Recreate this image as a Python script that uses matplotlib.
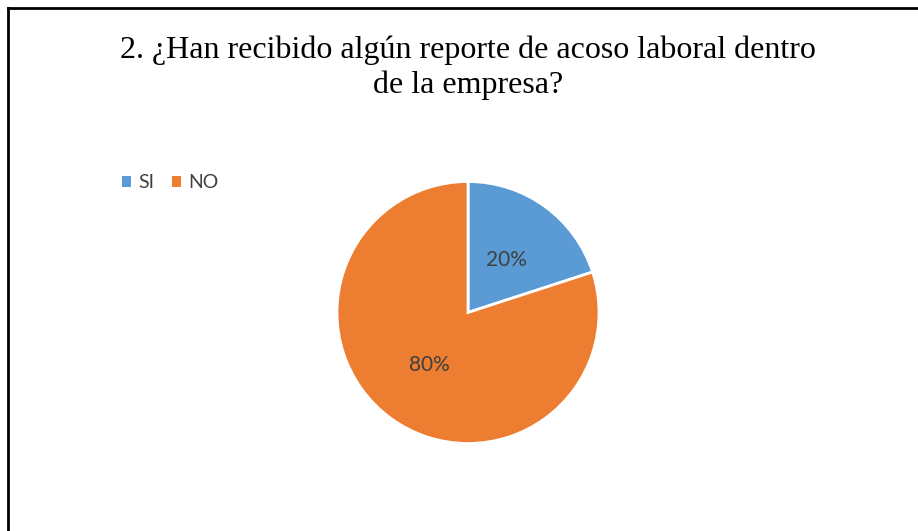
import matplotlib
matplotlib.use("Agg")
import matplotlib.pyplot as plt
from matplotlib.lines import Line2D
from matplotlib.patches import Patch

categorias = ["SI", "NO"]
valores = [20, 80]
colores = ["#5B9BD5", "#ED7D31"]
titulo = "2. ¿Han recibido algún reporte de acoso laboral dentro\nde la empresa?"

W, H = 918, 531
fig = plt.figure(figsize=(W / 100, H / 100), dpi=100)
fig.patch.set_facecolor("white")

# pie axes placed in pixels: center (468, 312), radius 131
cx, cy, r = 468, 312.5, 131
ax = fig.add_axes([(cx - r) / W, (H - cy - r) / H, 2 * r / W, 2 * r / H])
wedges, texts, autotexts = ax.pie(
    valores, colors=colores, startangle=90, counterclock=False,
    autopct="%1.0f%%", pctdistance=0.5,
    wedgeprops=dict(edgecolor="white", linewidth=2),
    textprops=dict(color="#404040", fontsize=15, family="Lato"))
ax.set_xlim(-1, 1)
ax.set_ylim(-1, 1)

fig.text(cx / W, 1 - 68 / H, titulo, ha="center", va="center",
         fontsize=23, family="Liberation Serif", color="black",
         linespacing=1.25)

handles = [Patch(facecolor=c, edgecolor="none") for c in colores]
fig.legend(handles, categorias, loc="center left",
           bbox_to_anchor=(104 / W, 1 - 183 / H), ncol=2, frameon=False,
           handlelength=0.5, handleheight=0.5, handletextpad=0.35,
           columnspacing=0.9, prop=dict(family="Lato", size=14),
           labelcolor="#404040")

# border: left and top only
fig.add_artist(Line2D([7.5 / W, 7.5 / W], [0, 1 - 8 / H], color="black",
                      linewidth=2, transform=fig.transFigure))
fig.add_artist(Line2D([7.5 / W, 1], [1 - 8 / H, 1 - 8 / H], color="black",
                      linewidth=2, transform=fig.transFigure))

fig.savefig("out.png", dpi=100)
